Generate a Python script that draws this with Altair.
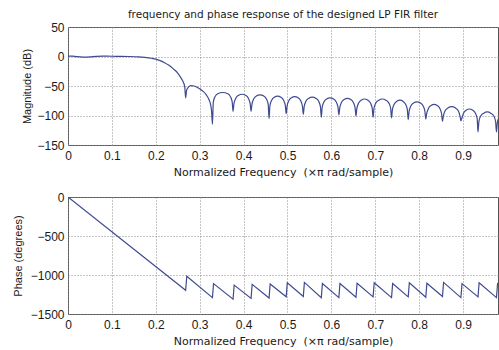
import altair as alt
import pandas as pd

# ---------------- data ----------------
mag_freq = [
    0.000, 0.010, 0.020, 0.035, 0.050, 0.065, 0.080, 0.100, 0.120, 0.140,
    0.160, 0.175, 0.190, 0.200, 0.210, 0.220, 0.230, 0.240, 0.250, 0.258,
    0.263, 0.266, 0.268,
    0.270, 0.274, 0.280, 0.287, 0.296, 0.306, 0.315, 0.321, 0.325, 0.327, 0.329,
    0.331, 0.335, 0.341, 0.3525, 0.364, 0.370, 0.374, 0.376,
    0.378, 0.382, 0.388, 0.3965, 0.405, 0.411, 0.415, 0.417,
    0.419, 0.423, 0.429, 0.4375, 0.446, 0.452, 0.456, 0.458,
    0.460, 0.464, 0.470, 0.4775, 0.485, 0.491, 0.495, 0.497,
    0.499, 0.503, 0.509, 0.5165, 0.524, 0.530, 0.534, 0.536,
    0.538, 0.542, 0.548, 0.5565, 0.565, 0.571, 0.575, 0.577,
    0.579, 0.583, 0.589, 0.597, 0.605, 0.611, 0.615, 0.617,
    0.619, 0.623, 0.629, 0.6365, 0.644, 0.650, 0.654, 0.656,
    0.658, 0.662, 0.668, 0.6755, 0.683, 0.689, 0.693, 0.695,
    0.697, 0.701, 0.708, 0.716, 0.724, 0.731, 0.735, 0.737,
    0.739, 0.743, 0.749, 0.756, 0.763, 0.769, 0.773, 0.775,
    0.777, 0.781, 0.787, 0.795, 0.803, 0.809, 0.813, 0.815,
    0.817, 0.821, 0.827, 0.834, 0.841, 0.847, 0.851, 0.853,
    0.855, 0.859, 0.866, 0.874, 0.882, 0.889, 0.893, 0.895,
    0.897, 0.901, 0.907, 0.9145, 0.922, 0.928, 0.932, 0.934,
    0.936, 0.940, 0.947, 0.955, 0.963, 0.970, 0.974, 0.976,
    0.978, 0.982, 0.990,
]
mag_db = [
    0.8, 0.6, -0.3, -0.9, -0.6, 0.3, 0.5, 0.4, 0.3, 0.0,
    -0.6, -1.5, -3.0, -4.5, -7.0, -10.5, -15.0, -21.0, -28.0, -37.0,
    -44.0, -52.0, -70.0,
    -58, -52, -49.5, -50, -53, -58, -65, -73, -82, -92, -115,
    -77, -68, -63, -61, -63, -68, -77, -93,
    -80, -71, -66, -64, -66, -71, -80, -93,
    -81, -72, -67, -65, -67, -72, -81, -105,
    -83, -74, -69, -67, -69, -74, -83, -97,
    -84, -75, -70, -68, -70, -75, -84, -98,
    -85, -76, -71, -69, -71, -76, -85, -103,
    -86, -77, -72, -70, -72, -77, -86, -99,
    -87, -78, -73, -71, -73, -78, -87, -101,
    -88, -79, -74, -72, -74, -79, -88, -103,
    -88, -79, -74, -72, -74, -79, -88, -104,
    -90, -81, -76, -74, -76, -81, -90, -107,
    -93, -84, -79, -77, -79, -84, -93, -106,
    -97, -88, -83, -81, -83, -88, -97, -110,
    -101, -92, -87, -85, -87, -92, -101, -109,
    -105, -96, -91, -89, -91, -96, -105, -128,
    -110, -101, -96, -94, -96, -101, -110, -128,
    -112, -103, -98,
]

phase_freq = [
    0.0, 0.268, 0.2705, 0.329, 0.3315, 0.376, 0.3785, 0.417, 0.4195, 0.458,
    0.4605, 0.497, 0.4995, 0.536, 0.5385, 0.577, 0.5795, 0.617, 0.6195, 0.656,
    0.6585, 0.695, 0.6975, 0.737, 0.7395, 0.775, 0.7775, 0.815, 0.8175, 0.853,
    0.8555, 0.895, 0.8975, 0.934, 0.9365, 0.976, 0.9785, 1.0,
]
phase_deg = [
    0, -1195, -1015, -1290, -1110, -1310, -1130, -1300, -1120, -1295,
    -1115, -1280, -1100, -1275, -1095, -1290, -1110, -1290, -1110, -1285,
    -1105, -1280, -1100, -1290, -1110, -1280, -1100, -1285, -1105, -1275,
    -1095, -1290, -1110, -1280, -1100, -1290, -1110, -1210,
]

x_ticks = [0, 0.1, 0.2, 0.3, 0.4, 0.5, 0.6, 0.7, 0.8, 0.9]
mag_ticks = [50, 0, -50, -100, -150]
phase_ticks = [0, -500, -1000, -1500]

title_text = "frequency and phase response of the designed LP FIR filter"
x_title = "Normalized Frequency \u00a0(\u00d7\u03c0 rad/sample)"

# ---------------- styling ----------------
FONT = "Liberation Sans"
WIDE_FONT = "DejaVu Sans"
LINE = "#3f4a92"
TEXT = "#1a1a1a"
GRID = "#8a8a8a"
X_DOMAIN = [0, 0.9795]
PLOT_W = 430

mag_df = pd.DataFrame({"f": mag_freq, "db": mag_db})
phase_df = pd.DataFrame({"f": phase_freq, "deg": phase_deg})


def x_axis():
    return alt.Axis(
        values=x_ticks, title=x_title, format=".1~f",
        labelFlush=False, labelOverlap=False,
        labelPadding=5, titlePadding=5, tickSize=0, domain=False,
        titleFont=WIDE_FONT, titleFontSize=11,
    )


def y_axis(vals, title, title_pad):
    return alt.Axis(
        values=vals, title=title, format="d",
        labelOverlap=False, labelPadding=4, titlePadding=title_pad,
        tickSize=0, domain=False,
    )


top = alt.Chart(mag_df).mark_line(
    color=LINE, strokeWidth=1.2, interpolate="monotone", clip=True
).encode(
    x=alt.X("f:Q", scale=alt.Scale(domain=X_DOMAIN, nice=False, zero=False), axis=x_axis()),
    y=alt.Y("db:Q", scale=alt.Scale(domain=[-150, 50], nice=False, zero=False),
            axis=y_axis(mag_ticks, "Magnitude (dB)", 4)),
).properties(
    width=PLOT_W, height=118,
    title=alt.TitleParams(title_text, font=WIDE_FONT, fontSize=10.5, fontWeight="normal",
                          color=TEXT, anchor="middle", frame="group", offset=1),
)

bottom = alt.Chart(phase_df).mark_line(
    color=LINE, strokeWidth=1.2, clip=True
).encode(
    x=alt.X("f:Q", scale=alt.Scale(domain=X_DOMAIN, nice=False, zero=False), axis=x_axis()),
    y=alt.Y("deg:Q", scale=alt.Scale(domain=[-1500, 0], nice=False, zero=False),
            axis=y_axis(phase_ticks, "Phase (degrees)", 7)),
).properties(width=PLOT_W, height=117)

chart = alt.vconcat(top, bottom, spacing=12).properties(
    padding={"left": 11, "top": 9, "right": 0, "bottom": 0},
    background="white",
).configure_view(
    stroke="#555555", strokeWidth=1
).configure_axis(
    grid=True, gridDash=[1, 2], gridColor=GRID, gridWidth=1, gridOpacity=1,
    labelFont=FONT, labelFontSize=12, labelColor=TEXT,
    titleFont=FONT, titleFontSize=11, titleFontWeight="normal", titleColor=TEXT,
)

chart.save("out.html", embed_options={"renderer": "svg", "actions": False})
